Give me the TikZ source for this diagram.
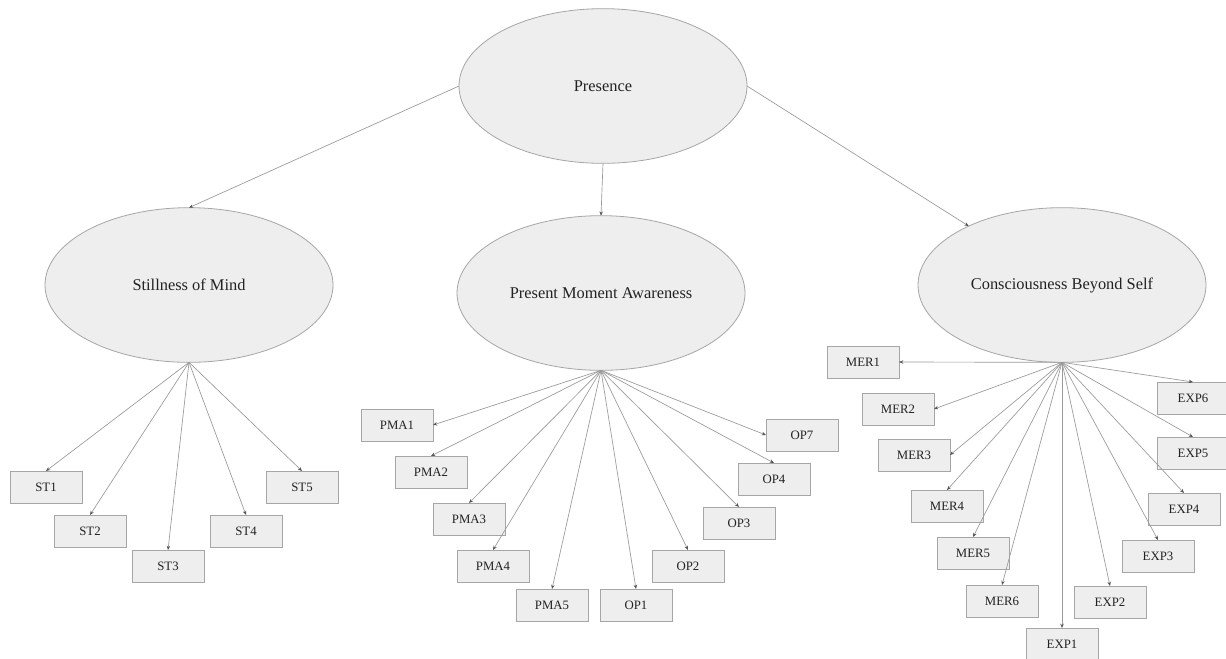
\documentclass[tikz,border=0pt]{standalone}
\usepackage{fontspec}
\setmainfont{Liberation Serif}
\usetikzlibrary{arrows.meta,shapes.geometric}
\definecolor{boxfill}{HTML}{EEEEEE}
\definecolor{boxline}{HTML}{A6A6A6}
\definecolor{linkline}{HTML}{9A9A9A}
\definecolor{tipfill}{HTML}{555555}
\definecolor{labeltext}{HTML}{222222}

\begin{document}
\begin{tikzpicture}[
x=0.75pt, y=-0.75pt,
factor/.style={ellipse, draw=boxline, fill=boxfill, line width=0.6pt, inner sep=0pt, outer sep=0pt,
  minimum width=216pt, minimum height=116pt, text=labeltext, font=\fontsize{12.3}{14}\selectfont},
item/.style={rectangle, draw=boxline, fill=boxfill, line width=0.7pt, inner sep=0pt, outer sep=0pt,
  minimum width=54pt, minimum height=24pt, text=labeltext, font=\fontsize{9.6}{11}\selectfont},
arrow/.style={-{Stealth[length=3.2pt,width=2.6pt,color=tipfill]}, draw=linkline, line width=0.5pt}
]
\useasboundingbox (0,0) rectangle (1226,658);
\fill[white] (0,0) rectangle (1226,658);

% latent factors
\node[factor] (pres) at (603,86) {Presence};
\node[factor] (som) at (189,285) {Stillness of Mind};
\node[factor] (pma) at (601,293) {Present Moment Awareness};
\node[factor] (cbs) at (1062,285) {Consciousness Beyond Self};

% stillness items
\node[item] (st1) at (46,487) {ST1};
\node[item] (st2) at (90,531) {ST2};
\node[item] (st3) at (168,566) {ST3};
\node[item] (st4) at (246,531) {ST4};
\node[item] (st5) at (302,487) {ST5};

% present moment items
\node[item] (pma1) at (397,425) {PMA1};
\node[item] (pma2) at (431,472) {PMA2};
\node[item] (pma3) at (469,519) {PMA3};
\node[item] (pma4) at (493,566) {PMA4};
\node[item] (pma5) at (552,605) {PMA5};
\node[item] (op1) at (636,605) {OP1};
\node[item] (op2) at (688,566) {OP2};
\node[item] (op3) at (739,523) {OP3};
\node[item] (op4) at (774,479) {OP4};
\node[item] (op7) at (802,435) {OP7};

% beyond self items
\node[item] (mer1) at (863,362) {MER1};
\node[item] (mer2) at (898,409) {MER2};
\node[item] (mer3) at (914,455) {MER3};
\node[item] (mer4) at (947,506) {MER4};
\node[item] (mer5) at (973,553) {MER5};
\node[item] (mer6) at (1002,601) {MER6};
\node[item] (exp1) at (1062,644) {EXP1};
\node[item] (exp2) at (1110,602) {EXP2};
\node[item] (exp3) at (1158,556) {EXP3};
\node[item] (exp4) at (1184,509) {EXP4};
\node[item] (exp5) at (1193,453) {EXP5};
\node[item] (exp6) at (1193,398) {EXP6};

\draw[arrow] (pres.west) -- (som.north);
\draw[arrow] (pres.south) -- (pma.north);
\draw[arrow] (pres.east) -- (cbs);

\draw[arrow] (som.south) -- (st1.north);
\draw[arrow] (som.south) -- (st2.north);
\draw[arrow] (som.south) -- (st3.north);
\draw[arrow] (som.south) -- (st4.north);
\draw[arrow] (som.south) -- (st5.north);

\draw[arrow] (pma.south) -- (pma1.east);
\draw[arrow] (pma.south) -- (pma2.north);
\draw[arrow] (pma.south) -- (pma3.north);
\draw[arrow] (pma.south) -- (pma4.north);
\draw[arrow] (pma.south) -- (pma5.north);
\draw[arrow] (pma.south) -- (op1.north);
\draw[arrow] (pma.south) -- (op2.north);
\draw[arrow] (pma.south) -- (op3.north);
\draw[arrow] (pma.south) -- (op4.north);
\draw[arrow] (pma.south) -- (op7.west);

\draw[arrow] (cbs.south) -- (mer1.east);
\draw[arrow] (cbs.south) -- (mer2.east);
\draw[arrow] (cbs.south) -- (mer3.east);
\draw[arrow] (cbs.south) -- (mer4.north);
\draw[arrow] (cbs.south) -- (mer5.north);
\draw[arrow] (cbs.south) -- (mer6.north);
\draw[arrow] (cbs.south) -- (exp1.north);
\draw[arrow] (cbs.south) -- (exp2.north);
\draw[arrow] (cbs.south) -- (exp3.north);
\draw[arrow] (cbs.south) -- (exp4.north);
\draw[arrow] (cbs.south) -- (exp5.north);
\draw[arrow] (cbs.south) -- (exp6.north);
\end{tikzpicture}
\end{document}
